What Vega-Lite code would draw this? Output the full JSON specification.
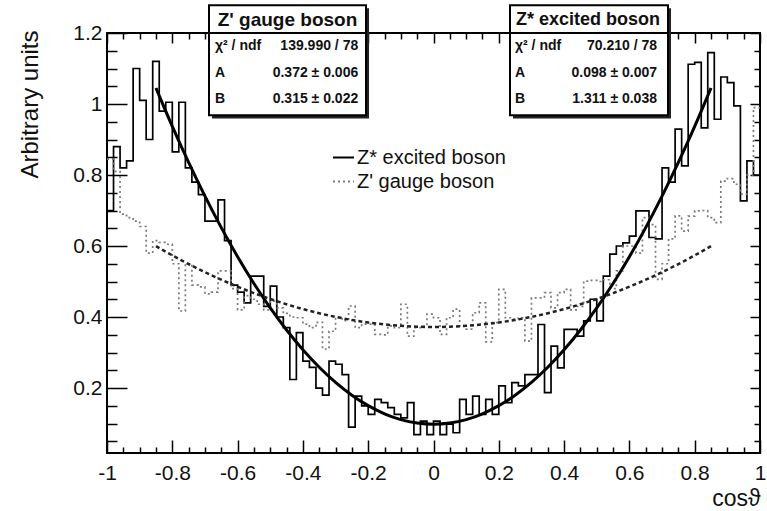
{
  "$schema": "https://vega.github.io/schema/vega-lite/v6.json",
  "width": 653,
  "height": 420,
  "autosize": {"type": "none"},
  "padding": {"left": 107, "top": 33, "right": 7, "bottom": 58},
  "background": "white",
  "config": {
    "font": "Liberation Sans",
    "view": {"stroke": "#000", "strokeWidth": 2},
    "axis": {"domain": false, "grid": false, "tickColor": "#000", "tickWidth": 1.5, "labelColor": "#111", "titleColor": "#111"}
  },
  "datasets": {
    "hist": [
      {"lo": -1, "hi": -0.98, "zs": 0.70, "zp": 0.845},
      {"lo": -0.98, "hi": -0.96, "zs": 0.88, "zp": 0.81},
      {"lo": -0.96, "hi": -0.94, "zs": 0.82, "zp": 0.69},
      {"lo": -0.94, "hi": -0.92, "zs": 0.84, "zp": 0.68},
      {"lo": -0.92, "hi": -0.9, "zs": 1.10, "zp": 0.67},
      {"lo": -0.9, "hi": -0.88, "zs": 1.01, "zp": 0.655},
      {"lo": -0.88, "hi": -0.86, "zs": 0.90, "zp": 0.58},
      {"lo": -0.86, "hi": -0.84, "zs": 1.12, "zp": 0.615},
      {"lo": -0.84, "hi": -0.82, "zs": 0.98, "zp": 0.61},
      {"lo": -0.82, "hi": -0.8, "zs": 1.005, "zp": 0.605},
      {"lo": -0.8, "hi": -0.78, "zs": 0.865, "zp": 0.55},
      {"lo": -0.78, "hi": -0.76, "zs": 1.005, "zp": 0.417},
      {"lo": -0.76, "hi": -0.74, "zs": 0.82, "zp": 0.55},
      {"lo": -0.74, "hi": -0.72, "zs": 0.78, "zp": 0.49},
      {"lo": -0.72, "hi": -0.7, "zs": 0.745, "zp": 0.485},
      {"lo": -0.7, "hi": -0.68, "zs": 0.67, "zp": 0.465},
      {"lo": -0.68, "hi": -0.66, "zs": 0.67, "zp": 0.47},
      {"lo": -0.66, "hi": -0.64, "zs": 0.73, "zp": 0.53},
      {"lo": -0.64, "hi": -0.62, "zs": 0.615, "zp": 0.53},
      {"lo": -0.62, "hi": -0.6, "zs": 0.49, "zp": 0.48},
      {"lo": -0.6, "hi": -0.58, "zs": 0.47, "zp": 0.42},
      {"lo": -0.58, "hi": -0.56, "zs": 0.44, "zp": 0.46},
      {"lo": -0.56, "hi": -0.54, "zs": 0.515, "zp": 0.45},
      {"lo": -0.54, "hi": -0.52, "zs": 0.515, "zp": 0.436},
      {"lo": -0.52, "hi": -0.5, "zs": 0.43, "zp": 0.42},
      {"lo": -0.5, "hi": -0.48, "zs": 0.487, "zp": 0.445},
      {"lo": -0.48, "hi": -0.46, "zs": 0.40, "zp": 0.426},
      {"lo": -0.46, "hi": -0.44, "zs": 0.37, "zp": 0.41},
      {"lo": -0.44, "hi": -0.42, "zs": 0.224, "zp": 0.40},
      {"lo": -0.42, "hi": -0.4, "zs": 0.356, "zp": 0.398},
      {"lo": -0.4, "hi": -0.38, "zs": 0.276, "zp": 0.38},
      {"lo": -0.38, "hi": -0.36, "zs": 0.258, "zp": 0.37},
      {"lo": -0.36, "hi": -0.34, "zs": 0.20, "zp": 0.385},
      {"lo": -0.34, "hi": -0.32, "zs": 0.18, "zp": 0.31},
      {"lo": -0.32, "hi": -0.3, "zs": 0.276, "zp": 0.36},
      {"lo": -0.3, "hi": -0.28, "zs": 0.267, "zp": 0.40},
      {"lo": -0.28, "hi": -0.26, "zs": 0.238, "zp": 0.39},
      {"lo": -0.26, "hi": -0.24, "zs": 0.09, "zp": 0.431},
      {"lo": -0.24, "hi": -0.22, "zs": 0.177, "zp": 0.37},
      {"lo": -0.22, "hi": -0.2, "zs": 0.15, "zp": 0.38},
      {"lo": -0.2, "hi": -0.18, "zs": 0.126, "zp": 0.38},
      {"lo": -0.18, "hi": -0.16, "zs": 0.168, "zp": 0.351},
      {"lo": -0.16, "hi": -0.14, "zs": 0.159, "zp": 0.35},
      {"lo": -0.14, "hi": -0.12, "zs": 0.145, "zp": 0.375},
      {"lo": -0.12, "hi": -0.1, "zs": 0.126, "zp": 0.37},
      {"lo": -0.1, "hi": -0.08, "zs": 0.116, "zp": 0.436},
      {"lo": -0.08, "hi": -0.06, "zs": 0.159, "zp": 0.346},
      {"lo": -0.06, "hi": -0.04, "zs": 0.069, "zp": 0.37},
      {"lo": -0.04, "hi": -0.02, "zs": 0.107, "zp": 0.374},
      {"lo": -0.02, "hi": 0, "zs": 0.069, "zp": 0.408},
      {"lo": 0, "hi": 0.02, "zs": 0.107, "zp": 0.398},
      {"lo": 0.02, "hi": 0.04, "zs": 0.069, "zp": 0.351},
      {"lo": 0.04, "hi": 0.06, "zs": 0.098, "zp": 0.398},
      {"lo": 0.06, "hi": 0.08, "zs": 0.074, "zp": 0.422},
      {"lo": 0.08, "hi": 0.1, "zs": 0.168, "zp": 0.375},
      {"lo": 0.1, "hi": 0.12, "zs": 0.126, "zp": 0.366},
      {"lo": 0.12, "hi": 0.14, "zs": 0.177, "zp": 0.412},
      {"lo": 0.14, "hi": 0.16, "zs": 0.126, "zp": 0.44},
      {"lo": 0.16, "hi": 0.18, "zs": 0.168, "zp": 0.33},
      {"lo": 0.18, "hi": 0.2, "zs": 0.126, "zp": 0.384},
      {"lo": 0.2, "hi": 0.22, "zs": 0.206, "zp": 0.478},
      {"lo": 0.22, "hi": 0.24, "zs": 0.159, "zp": 0.398},
      {"lo": 0.24, "hi": 0.26, "zs": 0.215, "zp": 0.394},
      {"lo": 0.26, "hi": 0.28, "zs": 0.206, "zp": 0.398},
      {"lo": 0.28, "hi": 0.3, "zs": 0.238, "zp": 0.332},
      {"lo": 0.3, "hi": 0.32, "zs": 0.238, "zp": 0.454},
      {"lo": 0.32, "hi": 0.34, "zs": 0.379, "zp": 0.454},
      {"lo": 0.34, "hi": 0.36, "zs": 0.187, "zp": 0.469},
      {"lo": 0.36, "hi": 0.38, "zs": 0.318, "zp": 0.426},
      {"lo": 0.38, "hi": 0.4, "zs": 0.257, "zp": 0.469},
      {"lo": 0.4, "hi": 0.42, "zs": 0.365, "zp": 0.478},
      {"lo": 0.42, "hi": 0.44, "zs": 0.365, "zp": 0.42},
      {"lo": 0.44, "hi": 0.46, "zs": 0.346, "zp": 0.43},
      {"lo": 0.46, "hi": 0.48, "zs": 0.389, "zp": 0.501},
      {"lo": 0.48, "hi": 0.5, "zs": 0.45, "zp": 0.503},
      {"lo": 0.5, "hi": 0.52, "zs": 0.389, "zp": 0.50},
      {"lo": 0.52, "hi": 0.54, "zs": 0.515, "zp": 0.505},
      {"lo": 0.54, "hi": 0.56, "zs": 0.577, "zp": 0.48},
      {"lo": 0.56, "hi": 0.58, "zs": 0.60, "zp": 0.53},
      {"lo": 0.58, "hi": 0.6, "zs": 0.609, "zp": 0.60},
      {"lo": 0.6, "hi": 0.62, "zs": 0.628, "zp": 0.60},
      {"lo": 0.62, "hi": 0.64, "zs": 0.699, "zp": 0.58},
      {"lo": 0.64, "hi": 0.66, "zs": 0.699, "zp": 0.68},
      {"lo": 0.66, "hi": 0.68, "zs": 0.624, "zp": 0.66},
      {"lo": 0.68, "hi": 0.7, "zs": 0.62, "zp": 0.506},
      {"lo": 0.7, "hi": 0.72, "zs": 0.82, "zp": 0.55},
      {"lo": 0.72, "hi": 0.74, "zs": 0.78, "zp": 0.62},
      {"lo": 0.74, "hi": 0.76, "zs": 0.929, "zp": 0.685},
      {"lo": 0.76, "hi": 0.78, "zs": 0.826, "zp": 0.642},
      {"lo": 0.78, "hi": 0.8, "zs": 1.112, "zp": 0.684},
      {"lo": 0.8, "hi": 0.82, "zs": 1.117, "zp": 0.699},
      {"lo": 0.82, "hi": 0.84, "zs": 0.933, "zp": 0.70},
      {"lo": 0.84, "hi": 0.86, "zs": 1.145, "zp": 0.68},
      {"lo": 0.86, "hi": 0.88, "zs": 0.957, "zp": 0.666},
      {"lo": 0.88, "hi": 0.9, "zs": 1.076, "zp": 0.783},
      {"lo": 0.9, "hi": 0.92, "zs": 1.06, "zp": 0.79},
      {"lo": 0.92, "hi": 0.94, "zs": 0.995, "zp": 0.774},
      {"lo": 0.94, "hi": 0.96, "zs": 0.727, "zp": 0.746},
      {"lo": 0.96, "hi": 0.98, "zs": 0.84, "zp": 0.80},
      {"lo": 0.98, "hi": 1, "zs": 0.80, "zp": 0.99}
    ],
    "fit": [
      {"x": -0.85, "zs": 1.0452, "zp": 0.5996},
      {"x": -0.8, "zs": 0.9370, "zp": 0.5736},
      {"x": -0.75, "zs": 0.8354, "zp": 0.5492},
      {"x": -0.7, "zs": 0.7404, "zp": 0.5264},
      {"x": -0.65, "zs": 0.6519, "zp": 0.5051},
      {"x": -0.6, "zs": 0.5700, "zp": 0.4854},
      {"x": -0.55, "zs": 0.4946, "zp": 0.4673},
      {"x": -0.5, "zs": 0.4258, "zp": 0.4508},
      {"x": -0.45, "zs": 0.3635, "zp": 0.4358},
      {"x": -0.4, "zs": 0.3078, "zp": 0.4224},
      {"x": -0.35, "zs": 0.2586, "zp": 0.4106},
      {"x": -0.3, "zs": 0.2160, "zp": 0.4004},
      {"x": -0.25, "zs": 0.1799, "zp": 0.3917},
      {"x": -0.2, "zs": 0.1504, "zp": 0.3846},
      {"x": -0.15, "zs": 0.1275, "zp": 0.3791},
      {"x": -0.1, "zs": 0.1111, "zp": 0.3752},
      {"x": -0.05, "zs": 0.1013, "zp": 0.3728},
      {"x": 0, "zs": 0.0980, "zp": 0.3720},
      {"x": 0.05, "zs": 0.1013, "zp": 0.3728},
      {"x": 0.1, "zs": 0.1111, "zp": 0.3752},
      {"x": 0.15, "zs": 0.1275, "zp": 0.3791},
      {"x": 0.2, "zs": 0.1504, "zp": 0.3846},
      {"x": 0.25, "zs": 0.1799, "zp": 0.3917},
      {"x": 0.3, "zs": 0.2160, "zp": 0.4004},
      {"x": 0.35, "zs": 0.2586, "zp": 0.4106},
      {"x": 0.4, "zs": 0.3078, "zp": 0.4224},
      {"x": 0.45, "zs": 0.3635, "zp": 0.4358},
      {"x": 0.5, "zs": 0.4258, "zp": 0.4508},
      {"x": 0.55, "zs": 0.4946, "zp": 0.4673},
      {"x": 0.6, "zs": 0.5700, "zp": 0.4854},
      {"x": 0.65, "zs": 0.6519, "zp": 0.5051},
      {"x": 0.7, "zs": 0.7404, "zp": 0.5264},
      {"x": 0.75, "zs": 0.8354, "zp": 0.5492},
      {"x": 0.8, "zs": 0.9370, "zp": 0.5736},
      {"x": 0.85, "zs": 1.0452, "zp": 0.5996}
    ],
    "stats": [
      {"box": "zp", "title": "Z' gauge boson", "labels": ["χ² / ndf", "A", "B"], "vals": ["139.990 / 78", "0.372 ± 0.006", "0.315 ± 0.022"]},
      {"box": "zs", "title": "Z* excited boson", "labels": ["χ² / ndf", "A", "B"], "vals": ["70.210 / 78", "0.098 ± 0.007", "1.311 ± 0.038"]}
    ]
  },
  "resolve": {"axis": {"x": "independent", "y": "independent"}},
  "layer": [
    {
      "data": {"name": "hist"},
      "transform": [{"fold": ["zs", "zp"], "as": ["series", "v"]}],
      "mark": {"type": "line", "interpolate": "step-after", "strokeWidth": 1.7},
      "encoding": {
        "x": {"field": "lo", "type": "quantitative",
          "scale": {"domain": [-1, 1], "nice": false, "zero": false},
          "axis": {"orient": "bottom", "values": [-1, -0.8, -0.6, -0.4, -0.2, 0, 0.2, 0.4, 0.6, 0.8, 1], "tickSize": -13, "labelPadding": 22, "labelFontSize": 21, "labelFlush": false, "labelOverlap": false,
            "labelExpr": "datum.value < 0 ? '-' + format(-datum.value, '~g') : format(datum.value, '~g')",
            "title": "cosϑ", "titleFontSize": 23, "titleFontWeight": "normal", "titleAnchor": "end", "titleAlign": "right", "titleBaseline": "alphabetic", "titleX": 653, "titleY": 52}},
        "y": {"field": "v", "type": "quantitative",
          "scale": {"domain": [0.017, 1.2], "nice": false, "zero": false},
          "axis": {"orient": "left", "values": [0.2, 0.4, 0.6, 0.8, 1, 1.2], "tickSize": -20, "labelPadding": 25, "labelFontSize": 21, "labelFlush": false, "labelOverlap": false,
            "labelExpr": "format(datum.value, '~g')",
            "title": "Arbitrary units", "titleFontSize": 24, "titleFontWeight": "normal", "titleAnchor": "end", "titleAlign": "right", "titleBaseline": "alphabetic", "titleAngle": -90, "titleX": -70, "titleY": -3}},
        "color": {"field": "series", "type": "nominal",
          "scale": {"domain": ["zs", "zp"], "range": ["#000000", "#7a7a7a"]},
          "legend": {"orient": "none", "legendX": 225, "legendY": 113, "title": null, "symbolType": "stroke", "symbolSize": 441, "symbolStrokeWidth": 2, "labelFontSize": 20, "labelColor": "#111", "labelOffset": 2, "rowPadding": 2, "padding": 0,
            "labelExpr": "datum.label == 'zs' ? 'Z* excited boson' : \"Z' gauge boson\""}},
        "strokeDash": {"field": "series", "type": "nominal",
          "scale": {"domain": ["zs", "zp"], "range": [[1, 0], [2, 3]]},
          "legend": {"orient": "none", "legendX": 225, "legendY": 113, "title": null, "symbolType": "stroke", "symbolSize": 441, "symbolStrokeWidth": 2, "labelFontSize": 20, "labelColor": "#111", "labelOffset": 2, "rowPadding": 2, "padding": 0,
            "labelExpr": "datum.label == 'zs' ? 'Z* excited boson' : \"Z' gauge boson\""}}
      }
    },
    {
      "data": {"name": "hist"},
      "transform": [{"fold": ["zs", "zp"], "as": ["series", "v"]}, {"filter": {"field": "lo", "gte": 0.979}}],
      "mark": {"type": "rule", "strokeWidth": 1.7},
      "encoding": {
        "x": {"field": "lo", "type": "quantitative",
          "axis": {"orient": "bottom", "values": [-0.95, -0.9, -0.85, -0.75, -0.7, -0.65, -0.55, -0.5, -0.45, -0.35, -0.3, -0.25, -0.15, -0.1, -0.05, 0.05, 0.1, 0.15, 0.25, 0.3, 0.35, 0.45, 0.5, 0.55, 0.65, 0.7, 0.75, 0.85, 0.9, 0.95], "tickSize": -6, "labels": false, "title": null}},
        "x2": {"field": "hi"},
        "y": {"field": "v", "type": "quantitative",
          "axis": {"orient": "left", "values": [0.05, 0.1, 0.15, 0.25, 0.3, 0.35, 0.45, 0.5, 0.55, 0.65, 0.7, 0.75, 0.85, 0.9, 0.95, 1.05, 1.1, 1.15], "tickSize": -10, "labels": false, "title": null}},
        "color": {"field": "series", "type": "nominal"},
        "strokeDash": {"field": "series", "type": "nominal"}
      }
    },
    {
      "data": {"name": "fit"},
      "mark": {"type": "line", "interpolate": "monotone", "color": "#000", "strokeWidth": 3},
      "encoding": {
        "x": {"field": "x", "type": "quantitative",
          "axis": {"orient": "top", "values": [-1, -0.8, -0.6, -0.4, -0.2, 0, 0.2, 0.4, 0.6, 0.8, 1], "tickSize": -10, "labels": false, "title": null}},
        "y": {"field": "zs", "type": "quantitative",
          "axis": {"orient": "right", "values": [0.2, 0.4, 0.6, 0.8, 1, 1.2], "tickSize": -10, "labels": false, "title": null}}
      }
    },
    {
      "data": {"name": "fit"},
      "mark": {"type": "line", "interpolate": "monotone", "color": "#222", "strokeWidth": 2.5, "strokeDash": [4, 3]},
      "encoding": {
        "x": {"field": "x", "type": "quantitative",
          "axis": {"orient": "top", "values": [-0.95, -0.9, -0.85, -0.75, -0.7, -0.65, -0.55, -0.5, -0.45, -0.35, -0.3, -0.25, -0.15, -0.1, -0.05, 0.05, 0.1, 0.15, 0.25, 0.3, 0.35, 0.45, 0.5, 0.55, 0.65, 0.7, 0.75, 0.85, 0.9, 0.95], "tickSize": -6, "labels": false, "title": null}},
        "y": {"field": "zp", "type": "quantitative",
          "axis": {"orient": "right", "values": [0.05, 0.1, 0.15, 0.25, 0.3, 0.35, 0.45, 0.5, 0.55, 0.65, 0.7, 0.75, 0.85, 0.9, 0.95, 1.05, 1.1, 1.15], "tickSize": -6, "labels": false, "title": null}}
      }
    },
    {
      "data": {"name": "stats"},
      "transform": [{"filter": {"field": "box", "equal": "zp"}}],
      "mark": {"type": "rect", "fill": "#222"},
      "encoding": {
        "x": {"datum": -0.6784, "type": "quantitative", "axis": null}, "x2": {"datum": -0.1975},
        "y": {"datum": 1.2695, "type": "quantitative", "axis": null}, "y2": {"datum": 0.9595}
      }
    },
    {
      "data": {"name": "stats"},
      "transform": [{"filter": {"field": "box", "equal": "zp"}}],
      "mark": {"type": "rect", "fill": "#fff", "stroke": "#000", "strokeWidth": 2},
      "encoding": {
        "x": {"datum": -0.6876, "type": "quantitative", "axis": null}, "x2": {"datum": -0.2067},
        "y": {"datum": 1.278, "type": "quantitative", "axis": null}, "y2": {"datum": 0.968}
      }
    },
    {
      "data": {"name": "stats"},
      "transform": [{"filter": {"field": "box", "equal": "zp"}}],
      "mark": {"type": "rule", "stroke": "#000", "strokeWidth": 2},
      "encoding": {
        "x": {"datum": -0.6876, "type": "quantitative", "axis": null}, "x2": {"datum": -0.2067},
        "y": {"datum": 1.2, "type": "quantitative", "axis": null}
      }
    },
    {
      "data": {"name": "stats"},
      "transform": [{"filter": {"field": "box", "equal": "zp"}}],
      "mark": {"type": "text", "fontSize": 19, "fontWeight": "bold", "align": "center", "baseline": "middle", "color": "#111"},
      "encoding": {
        "x": {"datum": -0.4472, "type": "quantitative", "axis": null},
        "y": {"datum": 1.2358, "type": "quantitative", "axis": null},
        "text": {"field": "title"}
      }
    },
    {
      "data": {"name": "stats"},
      "transform": [{"filter": {"field": "box", "equal": "zp"}}],
      "mark": {"type": "text", "fontSize": 14, "fontWeight": "bold", "align": "left", "baseline": "middle", "lineHeight": 26.5, "color": "#111"},
      "encoding": {
        "x": {"datum": -0.6692, "type": "quantitative", "axis": null},
        "y": {"datum": 1.1625, "type": "quantitative", "axis": null},
        "text": {"field": "labels"}
      }
    },
    {
      "data": {"name": "stats"},
      "transform": [{"filter": {"field": "box", "equal": "zp"}}],
      "mark": {"type": "text", "fontSize": 14, "fontWeight": "bold", "align": "right", "baseline": "middle", "lineHeight": 26.5, "color": "#111"},
      "encoding": {
        "x": {"datum": -0.2306, "type": "quantitative", "axis": null},
        "y": {"datum": 1.1625, "type": "quantitative", "axis": null},
        "text": {"field": "vals"}
      }
    },
    {
      "data": {"name": "stats"},
      "transform": [{"filter": {"field": "box", "equal": "zs"}}],
      "mark": {"type": "rect", "fill": "#222"},
      "encoding": {
        "x": {"datum": 0.2435, "type": "quantitative", "axis": null}, "x2": {"datum": 0.7274},
        "y": {"datum": 1.2695, "type": "quantitative", "axis": null}, "y2": {"datum": 0.9595}
      }
    },
    {
      "data": {"name": "stats"},
      "transform": [{"filter": {"field": "box", "equal": "zs"}}],
      "mark": {"type": "rect", "fill": "#fff", "stroke": "#000", "strokeWidth": 2},
      "encoding": {
        "x": {"datum": 0.2343, "type": "quantitative", "axis": null}, "x2": {"datum": 0.7182},
        "y": {"datum": 1.278, "type": "quantitative", "axis": null}, "y2": {"datum": 0.968}
      }
    },
    {
      "data": {"name": "stats"},
      "transform": [{"filter": {"field": "box", "equal": "zs"}}],
      "mark": {"type": "rule", "stroke": "#000", "strokeWidth": 2},
      "encoding": {
        "x": {"datum": 0.2343, "type": "quantitative", "axis": null}, "x2": {"datum": 0.7182},
        "y": {"datum": 1.2, "type": "quantitative", "axis": null}
      }
    },
    {
      "data": {"name": "stats"},
      "transform": [{"filter": {"field": "box", "equal": "zs"}}],
      "mark": {"type": "text", "fontSize": 18, "fontWeight": "bold", "align": "center", "baseline": "middle", "color": "#111"},
      "encoding": {
        "x": {"datum": 0.4732, "type": "quantitative", "axis": null},
        "y": {"datum": 1.2358, "type": "quantitative", "axis": null},
        "text": {"field": "title"}
      }
    },
    {
      "data": {"name": "stats"},
      "transform": [{"filter": {"field": "box", "equal": "zs"}}],
      "mark": {"type": "text", "fontSize": 14, "fontWeight": "bold", "align": "left", "baseline": "middle", "lineHeight": 26.5, "color": "#111"},
      "encoding": {
        "x": {"datum": 0.2496, "type": "quantitative", "axis": null},
        "y": {"datum": 1.1625, "type": "quantitative", "axis": null},
        "text": {"field": "labels"}
      }
    },
    {
      "data": {"name": "stats"},
      "transform": [{"filter": {"field": "box", "equal": "zs"}}],
      "mark": {"type": "text", "fontSize": 14, "fontWeight": "bold", "align": "right", "baseline": "middle", "lineHeight": 26.5, "color": "#111"},
      "encoding": {
        "x": {"datum": 0.6845, "type": "quantitative", "axis": null},
        "y": {"datum": 1.1625, "type": "quantitative", "axis": null},
        "text": {"field": "vals"}
      }
    }
  ]
}
